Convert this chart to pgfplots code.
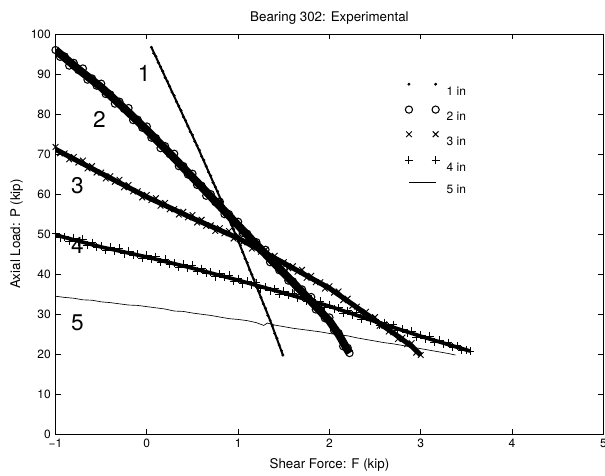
\documentclass[border=0pt]{standalone}
\usepackage{fontspec}
\setmainfont{TeX Gyre Heros}
\usepackage{pgfplots}
\pgfplotsset{compat=1.18}
\pgfplotsset{
  twomarks/.style={legend image code/.code={\draw[##1] plot coordinates {(0pt,6pt) (20pt,6pt)}; \path (0pt,0pt) (27pt,0pt);}},
  oneline/.style={legend image code/.code={\draw[##1] (0pt,6pt) -- (20pt,6pt); \path (0pt,0pt) (27pt,0pt);}},
}

\pgfplotstableread{
x y
-1 96.0
-0.95 94.3
-0.9 94.4
-0.85 92.1
-0.8 92.8
-0.75 91.0
-0.7 91.4
-0.65 88.6
-0.6 88.9
-0.55 87.1
-0.5 87.6
-0.45 85.0
-0.4 84.9
-0.35 82.6
-0.3 83.1
-0.25 81.3
-0.2 81.5
-0.15 78.5
-0.1 78.6
-0.05 76.6
0 76.9
0.05 74.1
0.1 74.0
0.15 71.5
0.2 72.0
0.25 70.0
0.3 70.1
0.35 67.0
0.4 67.0
0.45 64.9
0.5 65.1
0.55 62.3
0.6 62.1
0.65 59.6
0.7 60.0
0.75 58.0
0.8 58.1
0.85 55.0
0.9 55.0
0.95 52.9
1.0 53.1
1.05 50.3
1.1 50.1
1.15 47.6
1.2 48.0
1.25 46.0
1.3 46.1
1.35 43.0
1.4 43.1
1.45 41.0
1.5 41.2
1.55 38.4
1.6 38.2
1.65 35.8
1.7 36.2
1.75 34.2
1.8 34.3
1.85 31.2
1.9 31.1
1.95 29.0
2.0 29.2
2.05 26.0
2.1 25.3
2.15 22.0
2.2 21.6
2.22 20.3
}\dataTwo

\pgfplotstableread{
x y
-1 71.8
-0.95 70.2
-0.9 70.2
-0.85 68.7
-0.8 69.3
-0.75 67.9
-0.7 68.4
-0.65 66.4
-0.6 67.0
-0.55 65.4
-0.5 65.4
-0.45 63.9
-0.4 64.5
-0.35 63.1
-0.3 63.6
-0.25 61.7
-0.2 62.3
-0.15 60.7
-0.1 60.7
-0.05 59.2
0 59.8
0.05 58.5
0.1 59.0
0.15 57.1
0.2 57.8
0.25 56.2
0.3 56.3
0.35 54.9
0.4 55.6
0.45 54.2
0.5 54.8
0.55 52.9
0.6 53.6
0.65 52.1
0.7 52.2
0.75 50.8
0.8 51.5
0.85 50.2
0.9 50.8
0.95 48.9
1.0 49.6
1.05 48.0
1.1 48.0
1.15 46.4
1.2 47.0
1.25 45.6
1.3 46.1
1.35 44.1
1.4 44.6
1.45 43.0
1.5 43.0
1.55 41.5
1.6 42.0
1.65 40.6
1.7 41.1
1.75 39.1
1.8 39.6
1.85 38.0
1.9 38.0
1.95 36.4
2.0 37.0
2.05 35.4
2.1 35.7
2.15 33.5
2.2 33.9
2.25 32.1
2.3 31.9
2.35 30.2
2.4 30.6
2.45 29.0
2.5 29.3
2.55 27.1
2.6 27.5
2.65 25.7
2.7 25.5
2.75 23.8
2.8 24.2
2.85 22.5
2.9 22.8
2.95 20.4
3.0 19.8
}\dataThree

\pgfplotstableread{
x y
-1 50.3
-0.95 49.1
-0.9 49.4
-0.85 48.3
-0.8 49.0
-0.75 48.1
-0.7 48.7
-0.65 47.2
-0.6 47.9
-0.55 46.7
-0.5 47.0
-0.45 46.0
-0.4 46.7
-0.35 45.9
-0.3 46.5
-0.25 45.1
-0.2 45.8
-0.15 44.7
-0.1 45.0
-0.05 44.0
0 44.7
0.05 43.8
0.1 44.4
0.15 43.0
0.2 43.7
0.25 42.5
0.3 42.8
0.35 41.7
0.4 42.5
0.45 41.6
0.5 42.2
0.55 40.7
0.6 41.4
0.65 40.2
0.7 40.5
0.75 39.4
0.8 40.1
0.85 39.2
0.9 39.8
0.95 38.3
1.0 38.9
1.05 37.6
1.1 38.3
1.15 37.4
1.2 37.9
1.25 36.4
1.3 36.8
1.35 35.9
1.4 36.4
1.45 35.0
1.5 35.7
1.55 34.8
1.6 35.3
1.65 34.1
1.7 34.2
1.75 33.2
1.8 33.8
1.85 32.8
1.9 33.3
1.95 31.8
2.0 32.2
2.05 31.4
2.1 31.6
2.15 30.3
2.2 30.9
2.25 29.9
2.3 30.4
2.35 28.8
2.4 29.2
2.45 28.4
2.5 28.6
2.55 27.3
2.6 27.9
2.65 26.9
2.7 27.4
2.75 25.9
2.8 26.3
2.85 25.4
2.9 25.7
2.95 24.3
3.0 24.7
3.05 23.9
3.1 24.5
3.15 23.0
3.2 23.5
3.25 22.6
3.3 22.9
3.35 21.7
3.4 22.1
3.45 21.0
3.5 21.1
3.54 20.8
}\dataFour

\pgfplotstableread{
x y
0.05 96.7
0.075 95.2
0.1 94.4
0.125 92.9
0.15 91.8
0.175 90.7
0.2 89.1
0.225 88.2
0.25 86.9
0.275 85.5
0.3 84.6
0.325 83.1
0.35 82.0
0.375 80.9
0.4 79.3
0.425 78.4
0.45 77.0
0.475 75.6
0.5 74.8
0.525 73.2
0.55 72.1
0.575 71.0
0.6 69.4
0.625 68.5
0.65 67.0
0.675 65.5
0.7 64.6
0.725 62.9
0.75 61.8
0.775 60.7
0.8 59.0
0.825 58.1
0.85 56.6
0.875 55.1
0.9 54.2
0.925 52.4
0.95 51.2
0.975 50.0
1.0 48.2
1.025 47.2
1.05 45.5
1.075 43.9
1.1 42.9
1.125 41.1
1.15 39.9
1.175 38.6
1.2 36.8
1.225 35.8
1.25 34.2
1.275 32.6
1.3 31.5
1.325 29.7
1.35 28.5
1.375 27.1
1.4 25.2
1.425 24.0
1.45 22.3
1.475 20.9
1.49 19.8
}\dataOne

\pgfplotstableread{
x y
-1 34.5
-0.9 34.2
-0.8 34.0
-0.7 33.6
-0.6 33.5
-0.5 33.1
-0.4 32.9
-0.3 32.6
-0.2 32.3
-0.1 32.2
0 31.9
0.1 31.6
0.2 31.3
0.3 30.8
0.4 30.7
0.5 30.3
0.6 30.0
0.7 29.7
0.8 29.3
0.9 28.9
1.0 28.7
1.1 28.4
1.2 27.9
1.28 27.2
1.32 27.8
1.4 27.3
1.5 26.9
1.6 26.5
1.7 26.2
1.8 25.9
1.9 25.6
2.0 25.2
2.1 24.9
2.2 24.6
2.3 24.1
2.4 23.7
2.5 23.3
2.6 22.9
2.7 22.6
2.8 22.2
2.9 21.8
3.0 21.4
3.1 21.0
3.2 20.6
3.3 20.2
3.38 19.8
}\dataFive

% smooth centre lines of the dense bands
\pgfplotstableread{
x y
-1 96
-0.75 91.2
-0.5 86.7
-0.25 81.5
0 76
0.25 70.2
0.5 64.2
0.75 58.2
1 52.2
1.25 46.2
1.5 40.3
1.75 34.4
2 28.3
2.1 25
2.2 21
2.22 20.3
}\coreTwo
\pgfplotstableread{
x y
-1 71.2
-0.5 65.2
0 59.3
0.5 54
1 49
1.5 42.8
2 36.5
2.5 28.5
2.75 24.5
2.9 22
3.0 19.8
}\coreThree
\pgfplotstableread{
x y
-1 49.8
-0.5 46.8
0 44.3
0.5 41.5
1 38.5
1.5 35.3
2 32
2.5 28.2
3 24.5
3.54 20.8
}\coreFour
\pgfplotstableread{
x y
0.05 96.7
0.3 84.4
0.55 72.1
0.8 59.2
1.0 48.4
1.2 37
1.35 28.5
1.49 19.8
}\coreOne

\begin{document}
\begin{tikzpicture}
\begin{axis}[
  scale only axis, width=410.6pt, height=300pt,
  xmin=-1, xmax=5, ymin=0, ymax=100,
  xtick={-1,0,1,2,3,4,5}, xticklabels={−1,0,1,2,3,4,5},
  ytick={0,10,20,30,40,50,60,70,80,90,100},
  tick align=inside, major tick length=4pt,
  axis line style={line width=0.7pt},
  tick style={line width=0.6pt, black},
  /pgf/number format/assume math mode=true,
  tick label style={font=\fontsize{9}{10}\selectfont, black},
  title={Bearing 302: Experimental},
  xlabel={Shear Force: F (kip)},
  ylabel={Axial Load: P (kip)},
  label style={font=\fontsize{9}{10}\selectfont},
  title style={font=\fontsize{8.8}{10}\selectfont},
  every axis title/.style={at={(axis description cs:0.5,1.04)}, anchor=center},
  every axis x label/.style={at={(axis description cs:0.5,-0.077)}, anchor=center},
  every axis y label/.style={at={(axis description cs:-0.071,0.5)}, rotate=90, anchor=center},
  legend style={draw=none, fill=none, at={(axis description cs:0.63,0.885)}, anchor=north west,
    font=\fontsize{9}{10}\selectfont, row sep=5.4pt, nodes={inner sep=1pt}},
  legend cell align=left,
]
% solid cores of the dense bands
\addplot[black, line width=6pt, forget plot] table {\coreTwo};
\addplot[black, line width=3.8pt, forget plot] table {\coreThree};
\addplot[black, line width=2.8pt, forget plot] table {\coreFour};
\addplot[black, line width=1.5pt, forget plot] table {\coreOne};

\addplot[black, only marks, mark=*, mark size=0.9pt, twomarks] table {\dataOne};
\addlegendentry{1 in}
\addplot[black, only marks, mark=o, mark size=2.7pt, mark options={line width=0.8pt}, twomarks] table {\dataTwo};
\addlegendentry{2 in}
\addplot[black, only marks, mark=x, mark size=3pt, mark options={line width=0.7pt}, twomarks] table {\dataThree};
\addlegendentry{3 in}
\addplot[black, only marks, mark=+, mark size=3pt, mark options={line width=0.7pt}, twomarks] table {\dataFour};
\addlegendentry{4 in}
\addplot[black, line width=0.5pt, oneline] table {\dataFive};
\addlegendentry{5 in}

\node[font=\fontsize{17}{17}\selectfont] at (axis cs:-0.03,90.2) {1};
\node[font=\fontsize{17}{17}\selectfont] at (axis cs:-0.52,78.7) {2};
\node[font=\fontsize{17}{17}\selectfont] at (axis cs:-0.76,62.2) {3};
\node[font=\fontsize{17}{17}\selectfont] at (axis cs:-0.76,47.2) {4};
\node[font=\fontsize{17}{17}\selectfont] at (axis cs:-0.76,27.8) {5};
\node[anchor=east, font=\fontsize{13}{13}\selectfont] at (axis description cs:-0.086,-0.088) {(a)};
\end{axis}
\pgfresetboundingbox
\path (-41.6pt,-30.75pt) rectangle (411.8pt,325.5pt);
\end{tikzpicture}
\end{document}
